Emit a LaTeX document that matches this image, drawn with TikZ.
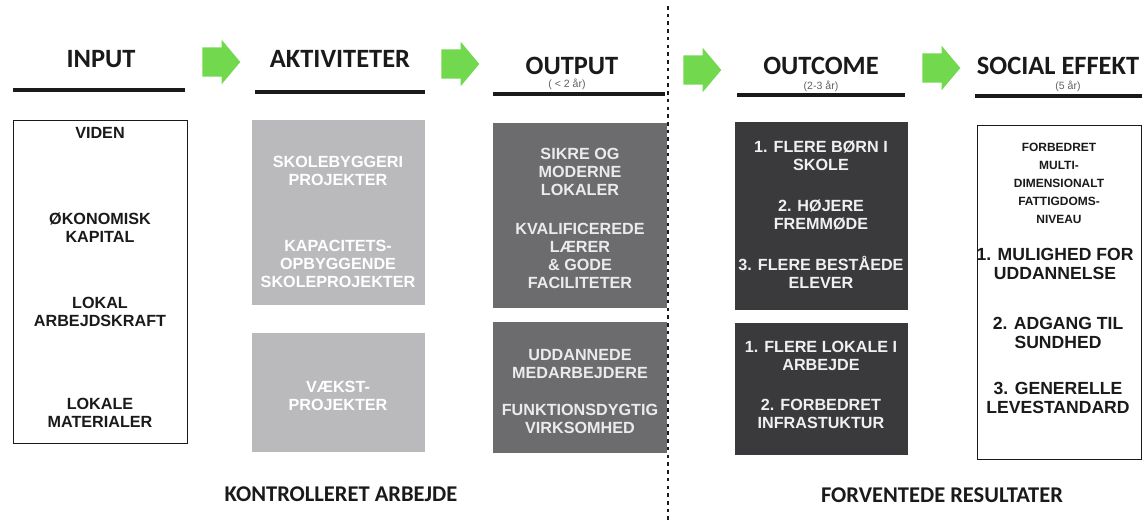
\documentclass[tikz,border=0pt]{standalone}
\usepackage{fontspec}
\setmainfont{Liberation Sans}
\newfontfamily\headfont{Carlito}
\usetikzlibrary{positioning,shapes.arrows}

\definecolor{arrowgreen}{RGB}{114,216,78}
\definecolor{actgray}{RGB}{186,186,189}
\definecolor{outgray}{RGB}{108,108,110}
\definecolor{comegray}{RGB}{58,58,60}
\definecolor{inkblack}{RGB}{26,26,26}

\tikzset{
  head/.style={font=\headfont\bfseries\fontsize{18.8}{20}\selectfont, text=inkblack, inner sep=0pt},
  period/.style={font=\fontsize{7.5}{8}\selectfont, text=gray!75!black, inner sep=0pt},
  foot/.style={font=\headfont\bfseries\fontsize{16}{18}\selectfont, text=inkblack, inner sep=0pt},
  greenarrow/.style={single arrow, fill=arrowgreen, draw=none, inner xsep=0pt, inner ysep=0.36cm,
    minimum height=0.95cm, single arrow head extend=0.19cm,
    single arrow tip angle=100, anchor=tail},
  rule/.style={line width=2.2pt, inkblack},
  divider/.style={line width=1pt, inkblack, dash pattern=on 2.5pt off 3pt},
  whitebox/.style={draw=inkblack, line width=0.9pt, fill=white, anchor=north west, inner sep=0pt},
  greybox/.style={fill=#1, anchor=north west, inner sep=0pt},
  boxtext/.style={font=\bfseries\fontsize{11.5}{13}\selectfont, align=center, inner sep=0pt, text=#1},
  boxtext/.default=inkblack,
  bigtext/.style={font=\bfseries\fontsize{12.5}{14}\selectfont, align=center, inner sep=0pt, text=inkblack},
  smalltext/.style={font=\bfseries\fontsize{8.5}{12.8}\selectfont, align=center, inner sep=0pt, text=inkblack}
}

\begin{document}
\begin{tikzpicture}[x=0.025cm,y=-0.025cm]
  \useasboundingbox (0,0) rectangle (1142,522);

  %headers
  \node[head] (input) at (101,59) {INPUT};
  \node[head] (akt) at (340,59) {AKTIVITETER};
  \node[head] (output) at (572,66) {OUTPUT};
  \node[head] (outcome) at (821,66) {OUTCOME};
  \node[head] (social) at (1058,66) {SOCIAL EFFEKT};

  \node[period] (outputyr) at (567,84) {( < 2 år)};
  \node[period] (outcomeyr) at (821,86) {(2-3 år)};
  \node[period] (socialyr) at (1068,86) {(5 år)};

  \draw[rule] (13,90) -- (185,90);
  \draw[rule] (255,92) -- (425,92);
  \draw[rule] (493,94) -- (665,94);
  \draw[rule] (737,95) -- (905,95);
  \draw[rule] (975,96) -- (1142,96);

  %arrows
  \node[greenarrow] (arr1) at (202,62) {};
  \node[greenarrow] (arr2) at (441,64) {};
  \node[greenarrow] (arr3) at (683,70) {};
  \node[greenarrow] (arr4) at (922,68) {};

  %divider
  \coordinate (divtop) at (668,6);
  \coordinate (divbot) at (668,522);
  \draw[divider] (divtop) -- (divbot);

  %input
  \node[whitebox, minimum width=4.35cm, minimum height=8.075cm] (inbox) at (13,120) {};
  \node[boxtext] (viden) at (100,133) {VIDEN};
  \node[boxtext] (kapital) at (100,228) {ØKONOMISK\\KAPITAL};
  \node[boxtext] (kraft) at (100,312) {LOKAL\\ARBEJDSKRAFT};
  \node[boxtext] (materialer) at (100,413) {LOKALE\\MATERIALER};

  %aktiviteter
  \node[greybox=actgray, minimum width=4.325cm, minimum height=4.625cm] (aktbox1) at (252,120) {};
  \node[greybox=actgray, minimum width=4.325cm, minimum height=2.975cm] (aktbox2) at (252,333) {};
  \node[boxtext=white] (skolebyg) at (338,171) {SKOLEBYGGERI\\PROJEKTER};
  \node[boxtext=white] (kapacitet) at (338,264) {KAPACITETS-\\OPBYGGENDE\\SKOLEPROJEKTER};
  \node[boxtext=white] (vaekst) at (338,396) {VÆKST-\\PROJEKTER};

  %output
  \node[greybox=outgray, minimum width=4.35cm, minimum height=4.625cm] (outbox1) at (493,123) {};
  \node[greybox=outgray, minimum width=4.35cm, minimum height=3.275cm] (outbox2) at (493,322) {};
  \node[boxtext=white!92!black] (lokaler) at (580,172) {SIKRE OG\\MODERNE\\LOKALER};
  \node[boxtext=white!92!black] (laerer) at (580,256) {KVALIFICEREDE\\LÆRER\\\& GODE\\FACILITETER};
  \node[boxtext=white!92!black] (medarb) at (580,364) {UDDANNEDE\\MEDARBEJDERE};
  \node[boxtext=white!92!black] (virksomhed) at (580,419) {FUNKTIONSDYGTIG\\VIRKSOMHED};

  %outcome
  \node[greybox=comegray, minimum width=4.325cm, minimum height=4.7cm] (comebox1) at (735,122) {};
  \node[greybox=comegray, minimum width=4.325cm, minimum height=3.3cm] (comebox2) at (735,323) {};
  \node[boxtext=white!94!black] (boern) at (821,156) {1. FLERE BØRN I\\SKOLE};
  \node[boxtext=white!94!black] (fremmoede) at (821,215) {2. HØJERE\\FREMMØDE};
  \node[boxtext=white!94!black] (elever) at (821,272) {3. FLERE BESTÅEDE\\ELEVER};
  \node[boxtext=white!94!black] (arbejde) at (821,356) {1. FLERE LOKALE I\\ARBEJDE};
  \node[boxtext=white!94!black] (infra) at (821,414) {2. FORBEDRET\\INFRASTUKTUR};

  %social effekt
  \node[whitebox, minimum width=4.1cm, minimum height=8.35cm] (socbox) at (977,125) {};
  \node[smalltext] (fattigdom) at (1059,183) {FORBEDRET\\MULTI-\\DIMENSIONALT\\FATTIGDOMS-\\NIVEAU};
  \node[bigtext] (uddannelse) at (1055,264) {1. MULIGHED FOR\\UDDANNELSE};
  \node[bigtext] (sundhed) at (1058,333) {2. ADGANG TIL\\SUNDHED};
  \node[bigtext] (leve) at (1058,398) {3. GENERELLE\\LEVESTANDARD};

  %footer
  \node[foot] (kontrol) at (341,494) {KONTROLLERET ARBEJDE};
  \node[foot] (forvent) at (942,495) {FORVENTEDE RESULTATER};
\end{tikzpicture}
\end{document}
